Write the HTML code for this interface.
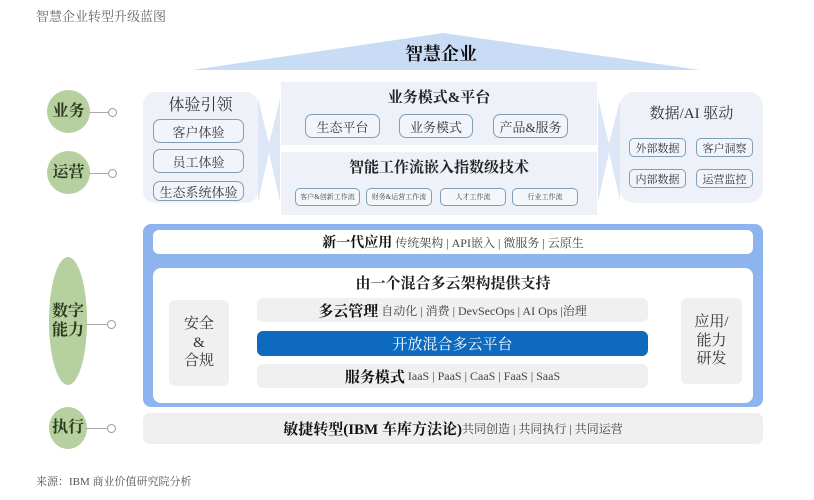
<!DOCTYPE html>
<html><head><meta charset="utf-8">
<style>
*{margin:0;padding:0;box-sizing:border-box}
body{width:814px;height:500px;background:#fff;position:relative;overflow:hidden;font-family:"Liberation Sans","Noto Sans CJK SC",sans-serif;color:#222}
.a{position:absolute}
.c{display:flex;align-items:center;justify-content:center;text-align:center}
.serif{font-family:"Liberation Serif","Noto Serif CJK SC",serif}
.b{font-weight:bold}
.pill{position:absolute;border:1.5px solid #7f9fb8;border-radius:7px;background:#f1f4fa;display:flex;align-items:center;justify-content:center;font-size:13px;color:#333}
.sp{position:absolute;border:1.2px solid #7f9fb8;border-radius:5px;background:#f4f6fa;display:flex;align-items:center;justify-content:center;font-size:7px;color:#444}
.g{position:absolute;background:#b6d09f;border-radius:50%;display:flex;align-items:center;justify-content:center;font-weight:bold;font-size:16px;color:#2a3a20;text-align:center;line-height:1.2}
.ln{position:absolute;height:1px;background:#aaa}
.dot{position:absolute;width:9px;height:9px;border:1.2px solid #999;border-radius:50%;background:#fff}
</style></head><body>
<div class="a serif" style="left:36px;top:6px;font-size:13px;color:#666">智慧企业转型升级蓝图</div>

<svg class="a" style="left:0;top:0" width="814" height="80"><polygon points="192,70 443,33 700,70" fill="#c9dcf6"/></svg>
<div class="a serif b" style="left:405px;top:40px;font-size:18px;color:#111">智慧企业</div>

<!-- left labels -->
<div class="g serif" style="left:47px;top:90px;width:43px;height:43px">业务</div>
<div class="g serif" style="left:47px;top:151px;width:43px;height:43px">运营</div>
<div class="g serif" style="left:49px;top:257px;width:38px;height:128px">数字<br>能力</div>
<div class="g serif" style="left:49px;top:407px;width:38px;height:42px">执行</div>
<div class="ln" style="left:89px;top:112px;width:20px"></div><div class="dot" style="left:108px;top:108px"></div>
<div class="ln" style="left:89px;top:173px;width:20px"></div><div class="dot" style="left:108px;top:169px"></div>
<div class="ln" style="left:86px;top:324px;width:22px"></div><div class="dot" style="left:107px;top:320px"></div>
<div class="ln" style="left:86px;top:428px;width:22px"></div><div class="dot" style="left:107px;top:424px"></div>

<!-- left box -->
<div class="a" style="left:143px;top:92px;width:115px;height:111px;background:#eef1f8;border-radius:12px"></div>
<div class="a serif" style="left:143px;top:92px;width:115px;text-align:center;font-size:16px;color:#333">体验引领</div>
<div class="pill serif" style="left:153px;top:119px;width:91px;height:24px">客户体验</div>
<div class="pill serif" style="left:153px;top:149px;width:91px;height:24px">员工体验</div>
<div class="pill serif" style="left:153px;top:181px;width:91px;height:20px">生态系统体验</div>
<svg class="a" style="left:256px;top:90px" width="26" height="120"><polygon points="2,8 14,58 2,112" fill="#dce6f6"/><polygon points="24,8 12,58 24,112" fill="#dce6f6"/></svg>

<!-- center -->
<div class="a" style="left:281px;top:82px;width:316px;height:63px;background:#eef1f8"></div>
<div class="a" style="left:281px;top:152px;width:316px;height:63px;background:#eef1f8"></div>
<div class="a serif b" style="left:281px;top:86px;width:316px;text-align:center;font-size:15px;color:#222">业务模式&amp;平台</div>
<div class="pill serif" style="left:305px;top:114px;width:75px;height:24px">生态平台</div>
<div class="pill serif" style="left:399px;top:114px;width:74px;height:24px">业务模式</div>
<div class="pill serif" style="left:493px;top:114px;width:75px;height:24px">产品&amp;服务</div>
<div class="a serif b" style="left:281px;top:156px;width:316px;text-align:center;font-size:15px;color:#222">智能工作流嵌入指数级技术</div>
<div class="sp serif" style="left:295px;top:188px;width:65px;height:18px">客户&amp;创新工作流</div>
<div class="sp serif" style="left:366px;top:188px;width:66px;height:18px">财务&amp;运营工作流</div>
<div class="sp serif" style="left:440px;top:188px;width:66px;height:18px">人才工作流</div>
<div class="sp serif" style="left:512px;top:188px;width:66px;height:18px">行业工作流</div>
<svg class="a" style="left:596px;top:90px" width="26" height="120"><polygon points="2,8 14,58 2,112" fill="#dce6f6"/><polygon points="24,10 12,58 24,110" fill="#dce6f6"/></svg>

<!-- right box -->
<div class="a" style="left:620px;top:92px;width:143px;height:111px;background:#eef1f8;border-radius:14px"></div>
<div class="a serif" style="left:620px;top:102px;width:143px;text-align:center;font-size:15px;color:#333">数据/AI 驱动</div>
<div class="pill serif" style="left:629px;top:138px;width:57px;height:19px;font-size:11px;border-radius:5px">外部数据</div>
<div class="pill serif" style="left:696px;top:138px;width:57px;height:19px;font-size:11px;border-radius:5px">客户洞察</div>
<div class="pill serif" style="left:629px;top:169px;width:57px;height:19px;font-size:11px;border-radius:5px">内部数据</div>
<div class="pill serif" style="left:696px;top:169px;width:57px;height:19px;font-size:11px;border-radius:5px">运营监控</div>

<!-- blue frame -->
<div class="a" style="left:143px;top:224px;width:620px;height:183px;background:#8db4ef;border-radius:8px"></div>
<div class="a c serif" style="left:153px;top:230px;width:600px;height:24px;background:#fff;border-radius:6px;font-size:12px;color:#444"><b style="font-size:14px;color:#111">新一代应用</b>&nbsp;传统架构 | API嵌入 | 微服务 | 云原生</div>
<div class="a" style="left:153px;top:268px;width:600px;height:135px;background:#fff;border-radius:8px"></div>
<div class="a serif b" style="left:153px;top:272px;width:600px;text-align:center;font-size:15px;color:#222">由一个混合多云架构提供支持</div>
<div class="a c serif" style="left:169px;top:300px;width:60px;height:86px;background:#f0f0f0;border-radius:6px;font-size:15px;line-height:1.25;color:#333">安全<br>&amp;<br>合规</div>
<div class="a c serif" style="left:681px;top:298px;width:61px;height:86px;background:#f0f0f0;border-radius:6px;font-size:15px;line-height:1.25;color:#333">应用/<br>能力<br>研发</div>
<div class="a c serif" style="left:257px;top:298px;width:391px;height:24px;background:#f0f0f0;border-radius:6px;font-size:12px;color:#444"><b style="font-size:15px;color:#111">多云管理</b>&nbsp;自动化 | 消费 | DevSecOps | AI Ops |治理</div>
<div class="a c serif" style="left:257px;top:331px;width:391px;height:25px;background:#0d6abf;border-radius:6px;font-size:15px;color:#fff">开放混合多云平台</div>
<div class="a c serif" style="left:257px;top:364px;width:391px;height:24px;background:#f0f0f0;border-radius:6px;font-size:12px;color:#444"><b style="font-size:15px;color:#111">服务模式</b>&nbsp;IaaS | PaaS | CaaS | FaaS | SaaS</div>

<div class="a c serif" style="left:143px;top:413px;width:620px;height:31px;background:#efefef;border-radius:7px;font-size:12px;color:#444"><b style="font-size:15px;color:#111">敏捷转型(IBM 车库方法论)</b>共同创造 | 共同执行 | 共同运营</div>

<div class="a serif" style="left:36px;top:473px;font-size:11px;color:#555">来源：IBM 商业价值研究院分析</div>
</body></html>
